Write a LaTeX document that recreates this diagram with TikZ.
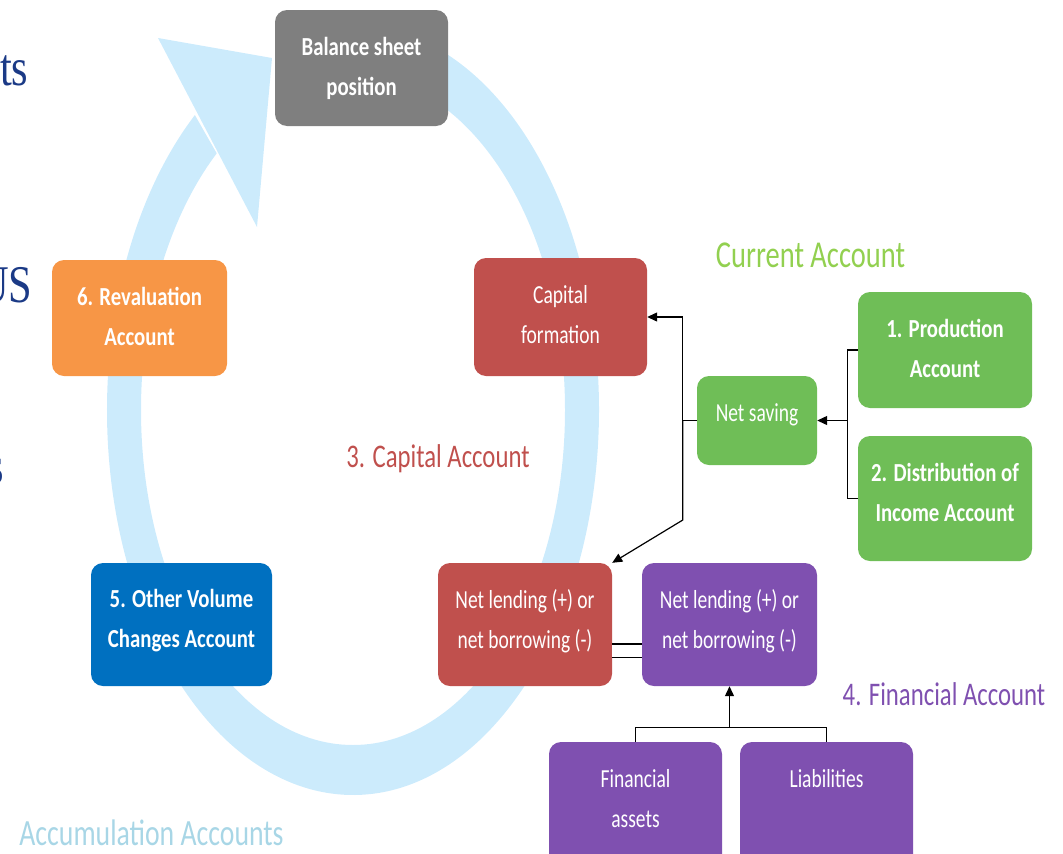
\documentclass[tikz,border=0pt]{standalone}
\usepackage{fontspec}
\setmainfont{Carlito}[FakeStretch=0.75, BoldFeatures={FakeStretch=0.8}]
\newfontfamily\slidefont{Liberation Serif}[FakeStretch=0.8]
\usetikzlibrary{positioning,arrows.meta}

\definecolor{ringblue}{HTML}{CCEBFC}
\definecolor{balgray}{HTML}{7F7F7F}
\definecolor{revorange}{HTML}{F79646}
\definecolor{capred}{HTML}{C0504D}
\definecolor{curgreen}{HTML}{6FBE57}
\definecolor{curlabel}{HTML}{92D050}
\definecolor{finpurple}{HTML}{7F50B0}
\definecolor{volblue}{HTML}{0070C0}
\definecolor{accblue}{HTML}{A8D6E6}
\definecolor{slidenavy}{HTML}{1B3A86}

\tikzset{
    acct/.style={rounded corners=12pt, text=white, align=center, inner sep=0pt,
        text depth=0pt, font={\fontsize{26}{40}\selectfont}},
    bold/.style={font={\fontsize{26}{40}\selectfont\bfseries}},
    arr/.style={-{Triangle[length=10pt,width=9pt]}},
    link/.style={line width=1.2pt},
    grouplabel/.style={anchor=base, font={\fontsize{33}{40}\selectfont}}
}

\begin{document}
\begin{tikzpicture}[x=1pt,y=1pt]
    \useasboundingbox (0,0) rectangle (1063,-854);
    \clip (0,0) rectangle (1063,-854);

    % cut-off words of the slide
    \node[anchor=base east, text=slidenavy, font={\slidefont\fontsize{53}{60}\selectfont}] (w1) at (32,-85) {ts};
    \node[anchor=base east, text=slidenavy, font={\slidefont\fontsize{53}{60}\selectfont}] (w2) at (36,-302) {US};
    \node[anchor=base east, text=slidenavy, font={\slidefont\fontsize{53}{60}\selectfont}] (w3) at (8,-483) {s};

    % circular arrow behind the accounts
    \fill[ringblue, shift={(353,-410)}] (130:246 and 385)
        arc[start angle=130, end angle=450, x radius=246, y radius=385]
        -- (90:212 and 335)
        arc[start angle=450, end angle=130, x radius=212, y radius=335] -- cycle;
    \fill[ringblue] (158,-38) -- (272,-58) -- (257,-227) -- cycle;

    \node[acct, bold, fill=balgray, minimum width=173pt, minimum height=116pt, text height=54pt] (bal) at (361.5,-68) {Balance sheet\\position};
    \node[acct, bold, fill=revorange, minimum width=175pt, minimum height=116pt, text height=54pt] (reval) at (139.5,-318) {6. Revaluation\\Account};
    \node[acct, fill=capred, minimum width=173pt, minimum height=118pt, text height=52pt] (capform) at (560.5,-317) {Capital\\formation};
    \node[acct, bold, fill=curgreen, minimum width=174pt, minimum height=116pt, text height=54pt] (prod) at (945,-350) {1. Production\\Account};
    \node[acct, bold, fill=curgreen, minimum width=174pt, minimum height=125pt, text height=45pt] (distr) at (945,-498.5) {2. Distribution of\\Income Account};
    \node[acct, fill=curgreen, minimum width=120pt, minimum height=89pt, text height=1pt] (netsav) at (757,-420.5) {Net saving};
    \node[acct, fill=capred, minimum width=174pt, minimum height=123pt, text height=47pt] (lendcap) at (525,-624.5) {Net lending (+) or\\net borrowing (-)};
    \node[acct, fill=finpurple, minimum width=175pt, minimum height=123pt, text height=47pt] (lendfin) at (729.5,-624.5) {Net lending (+) or\\net borrowing (-)};
    \node[acct, fill=finpurple, minimum width=173pt, minimum height=124pt, text height=46pt] (finassets) at (635.5,-804) {Financial\\assets};
    \node[acct, fill=finpurple, minimum width=173pt, minimum height=124pt, text height=0pt, text depth=34pt] (liab) at (826.5,-804) {Liabilities};
    \node[acct, bold, fill=volblue, minimum width=181pt, minimum height=123pt, text height=45pt] (othervol) at (181.5,-624.5) {5. Other Volume\\Changes Account};

    \node[grouplabel, text=curlabel, font={\fontsize{38}{44}\selectfont}] (curacc) at (810.5,-267) {Current Account};
    \node[grouplabel, text=capred] (capacc) at (438,-467) {3. Capital Account};
    \node[grouplabel, text=finpurple] (finacc) at (944,-705) {4. Financial Account};
    \node[grouplabel, text=accblue, font={\fontsize{37}{44}\selectfont}] (accum) at (151.5,-845) {Accumulation Accounts};

    % connectors
    \coordinate[left=14pt of netsav] (sj);
    \coordinate[right=30pt of netsav] (cj);
    \coordinate[below=41pt of lendfin] (fj);

    \draw[link] (netsav.west) -- (sj);
    \draw[link, arr] (sj) |- (capform.east);
    \draw[link, arr] (sj) -- ++(0,-99.5) -- (lendcap.north east);
    \draw[link] (prod.west) -| (cj) |- (distr.west);
    \draw[link, arr] (cj) -- (netsav.east);
    \draw[link] (finassets.north) |- (fj) -| (liab.north);
    \draw[link, arr] (fj) -- (lendfin.south);
    \draw[link, double, double distance=12pt] ([yshift=-26pt]lendcap.east) -- ([yshift=-26pt]lendfin.west);
\end{tikzpicture}
\end{document}
